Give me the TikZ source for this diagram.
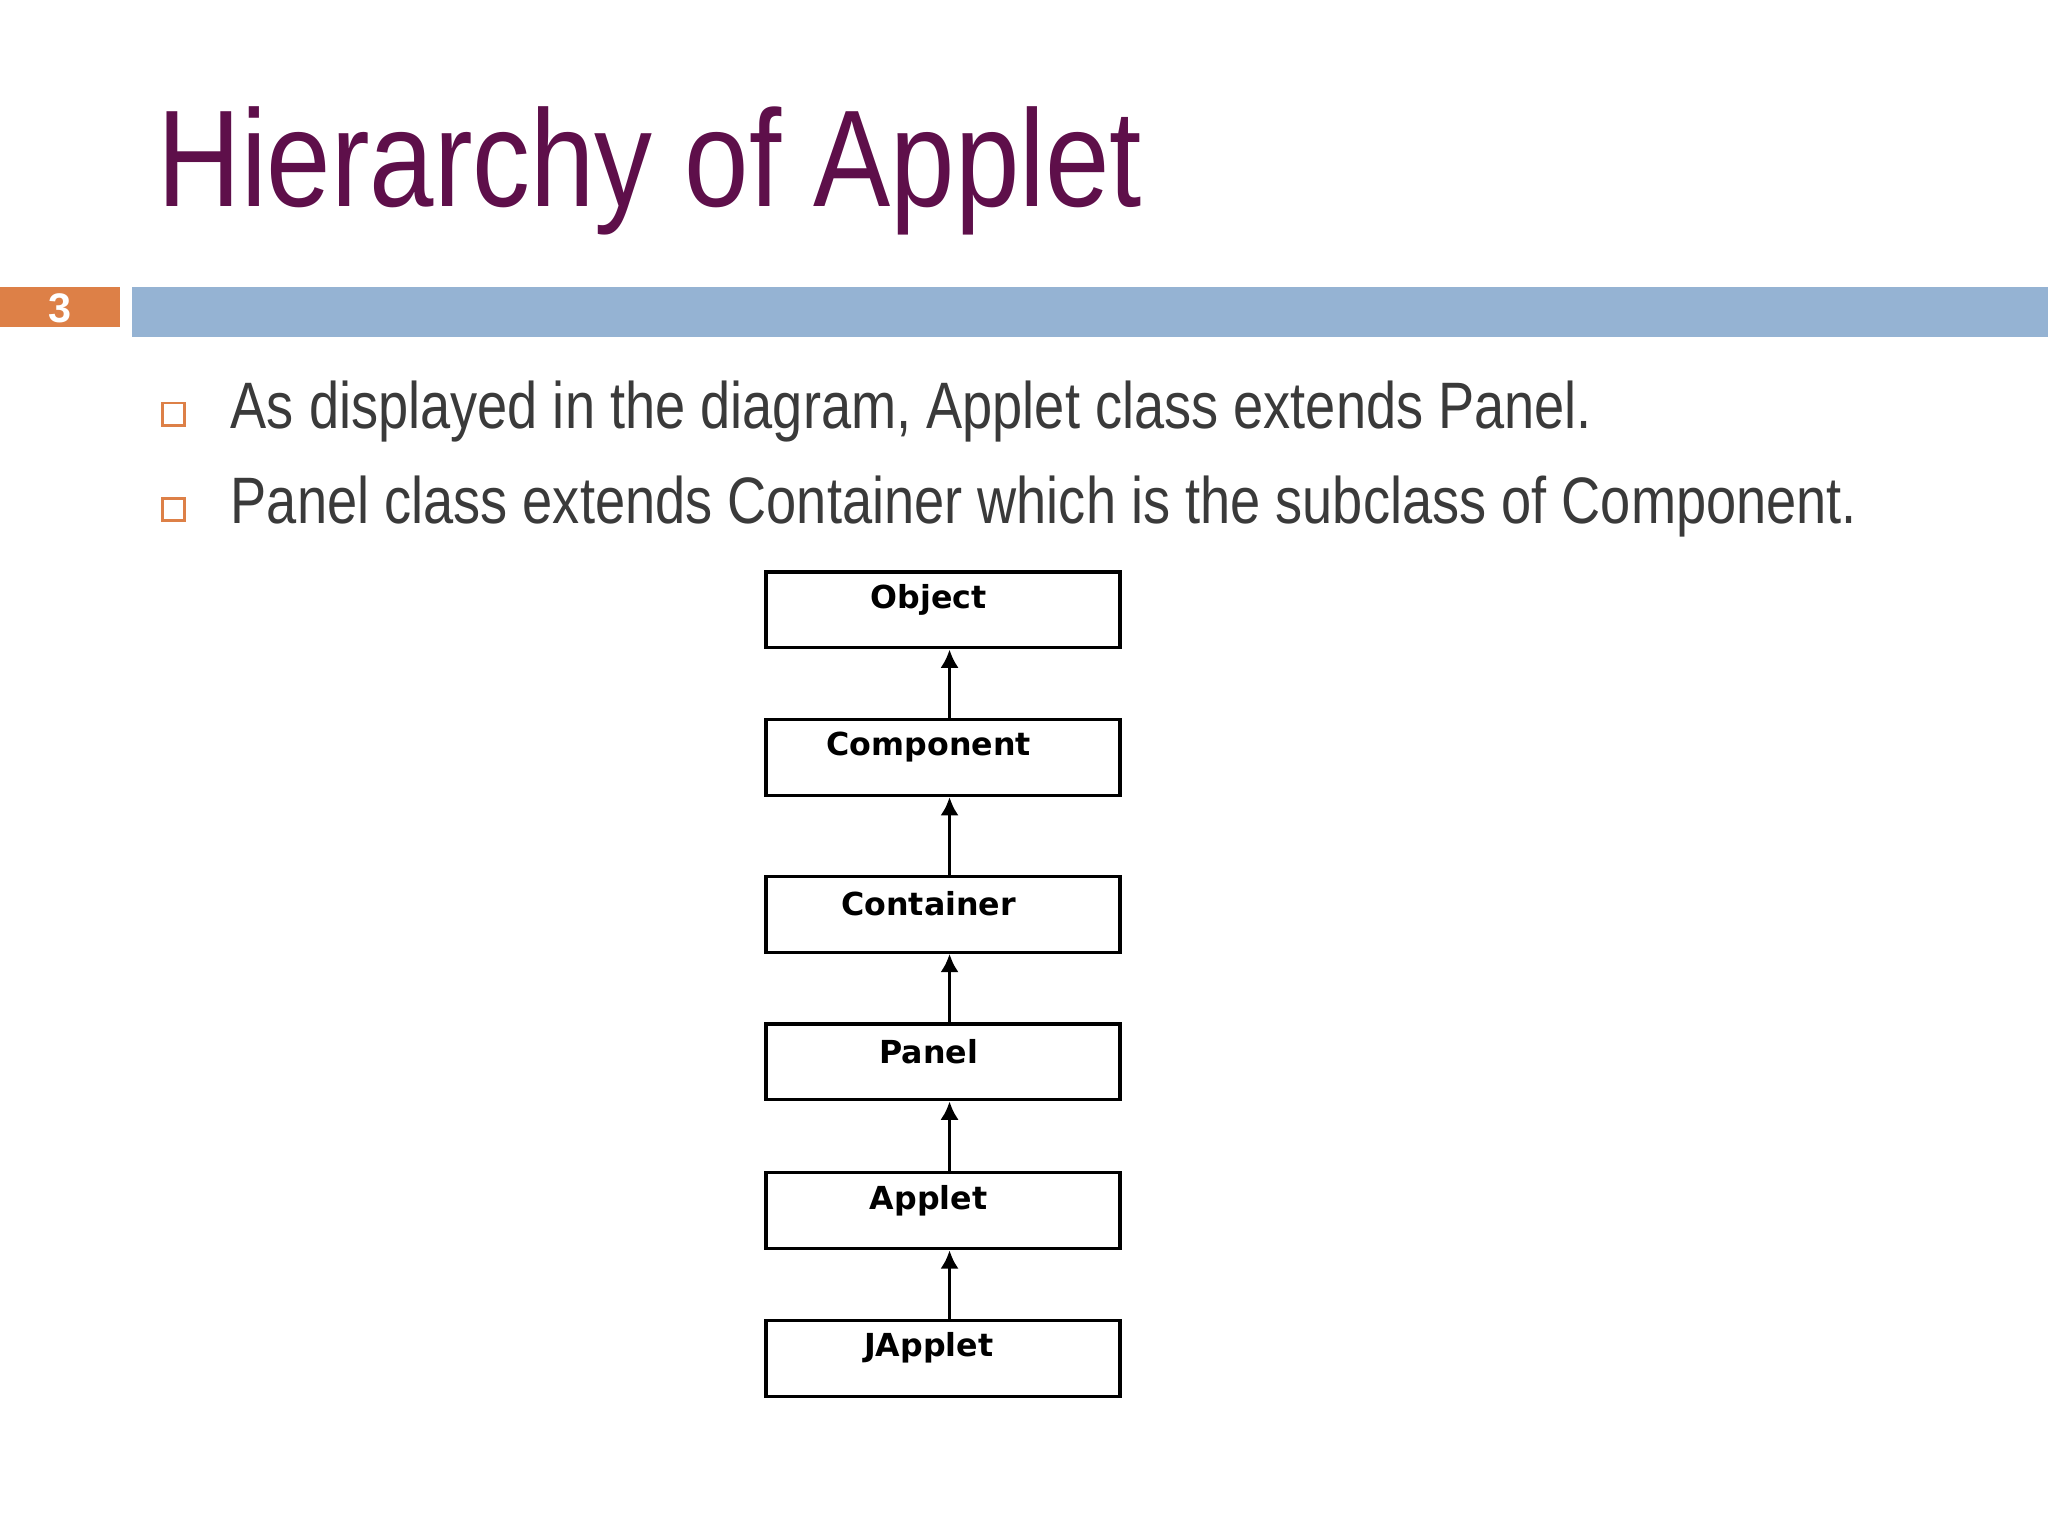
\documentclass[tikz,border=0pt]{standalone}
\usepackage{fontspec}
\setmainfont{Liberation Sans}
\newfontfamily\boxfont{DejaVu Sans}
\usetikzlibrary{arrows.meta}
\definecolor{titlec}{HTML}{5E0F4A}
\definecolor{barc}{HTML}{95B3D3}
\definecolor{orc}{HTML}{DD8047}
\definecolor{txtc}{HTML}{3A3A3A}
\begin{document}
\begin{tikzpicture}[x=0.01cm,y=-0.01cm,
 cls/.style={draw,line width=0.7pt,minimum width=2.71cm,minimum height=0.58cm,inner sep=0pt},
 lbl/.style={font=\boxfont\bfseries\fontsize{6.9}{8}\selectfont},
 inh/.style={-{Latex[length=4pt,width=4pt]},line width=0.8pt}]
\useasboundingbox (0,0) rectangle (1568,1176);
\node[anchor=base west,text=titlec,inner sep=0pt,font=\fontsize{30}{34}\selectfont] (title) at (120,158) {\scalebox{0.84}[1]{Hierarchy of Applet}};
\fill[orc] (0,220) rectangle (92,250);
\node[text=white,font=\bfseries\fontsize{9}{10}\selectfont] (num) at (46,236) {3};
\fill[barc] (101,220) rectangle (1568,258);
\foreach \y/\t [count=\i] in {328/{As displayed in the diagram, Applet class extends Panel.},401/{Panel class extends Container which is the subclass of Component.}}{
 \node[draw=orc,line width=0.6pt,minimum size=0.17cm,inner sep=0pt] (sq\i) at (133,\y-11) {};
 \node[anchor=base west,inner sep=0pt,text=txtc,font=\fontsize{14.3}{16}\selectfont] (b\i) at (176,\y) {\scalebox{0.825}[1]{\t}};
}
\foreach \n/\t/\y in {o/Object/438,c/Component/551,ct/Container/671,p/Panel/784,a/Applet/898,j/JApplet/1011}{
 \node[cls] (\n) at (722,\y+29) {};
 \node[lbl] (\n l) at (711,\y+21) {\t};
}
\foreach \a/\b in {c/o,ct/c,p/ct,a/p,j/a}{
 \draw[inh] (\a.north -| 727,0) -- (\b.south -| 727,0);
}
\end{tikzpicture}
\end{document}
